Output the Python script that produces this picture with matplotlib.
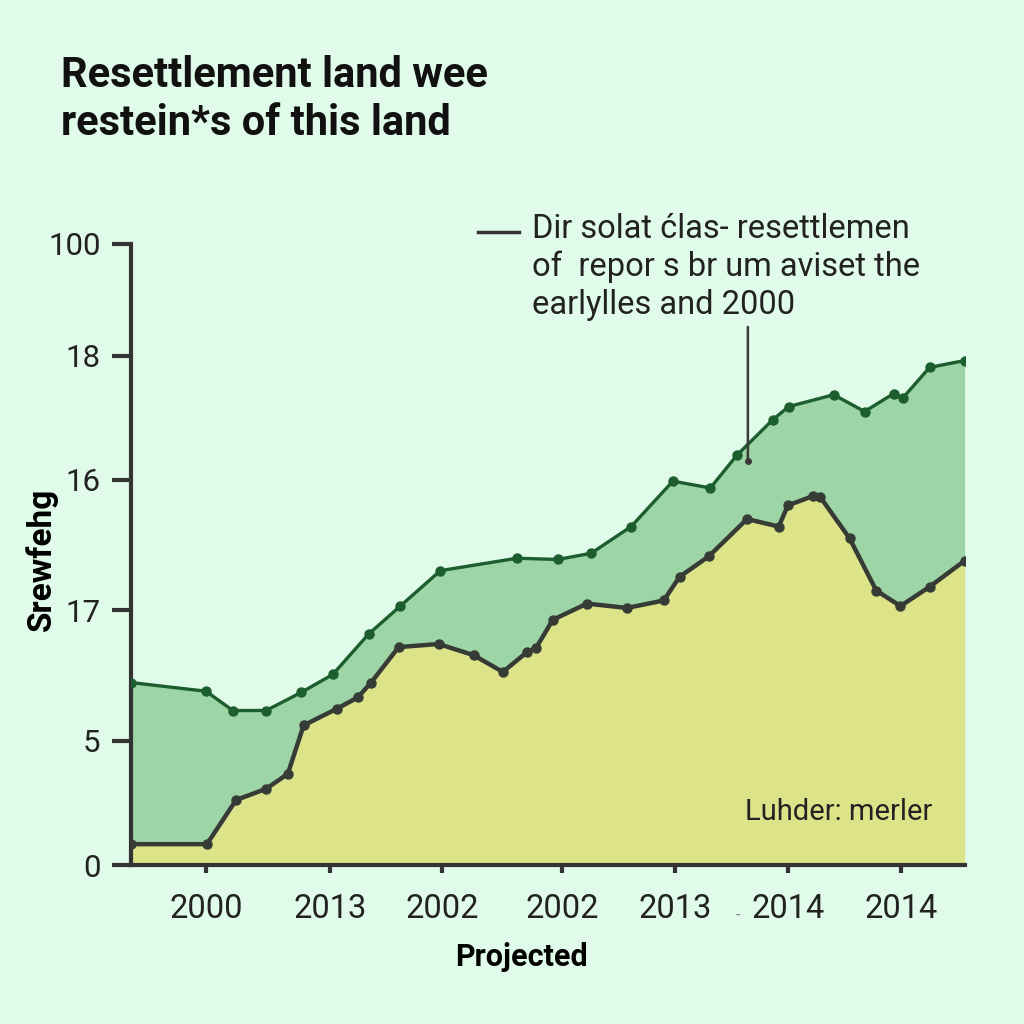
import numpy as np
import matplotlib.pyplot as plt
from matplotlib.lines import Line2D

# upper (green) series
x_up = [0, 9.0, 12.2, 16.2, 20.4, 24.2, 28.5, 32.3, 37.1, 46.3, 51.2, 55.2, 60.0,
        65.0, 69.5, 72.7, 77.0, 78.9, 84.3, 88.0, 91.5, 92.6, 95.8, 100]
y_up = [29.4, 28.0, 24.9, 24.9, 27.8, 30.7, 37.2, 41.7, 47.4, 49.4, 49.2, 50.2, 54.5,
        61.8, 60.7, 66.0, 71.7, 73.8, 75.7, 73.0, 75.9, 75.2, 80.1, 81.2]

# lower (dark) series
x_lo = [0, 9.1, 12.6, 16.2, 18.8, 20.7, 24.7, 27.2, 28.8, 32.1, 36.9, 41.1, 44.6, 47.5,
        48.6, 50.6, 54.7, 59.5, 63.9, 65.8, 69.3, 73.9, 77.7, 78.8, 81.8, 82.7, 86.2,
        89.4, 92.3, 95.8, 100]
y_lo = [3.4, 3.4, 10.5, 12.3, 14.7, 22.5, 25.2, 27.0, 29.4, 35.1, 35.6, 33.8, 31.1, 34.3,
        35.0, 39.5, 42.1, 41.4, 42.6, 46.4, 49.7, 55.7, 54.5, 57.9, 59.4, 59.2, 52.6,
        44.2, 41.7, 44.8, 49.0]

y_ticks = [0, 20, 41, 62, 82, 100]
y_labels = ['0', '5', '17', '16', '18', '100']
x_ticks = [9.0, 23.9, 37.3, 51.7, 65.3, 78.8, 92.4]
x_labels = ['2000', '2013', '2002', '2002', '2013', '2014', '2014']

bg = '#e1fbea'
plt.rcParams['font.family'] = ['Roboto', 'DejaVu Sans']

fig = plt.figure(figsize=(10.24, 10.24), dpi=100, facecolor=bg)
ax = fig.add_axes([0.128, 0.155, 0.814, 0.607])
ax.set_facecolor(bg)

ax.fill_between(x_up, y_up, 0, color='#9ed5a6', lw=0, zorder=1)
ax.fill_between(x_lo, y_lo, 0, color='#dde389', lw=0, zorder=2)
ax.plot(x_up, y_up, color='#1d5e2e', lw=2.4, marker='o', ms=6.5, zorder=3)
ax.plot(x_lo, y_lo, color='#363b35', lw=3.2, marker='o', ms=6.5, zorder=4)

# annotation pointer
ax.annotate('', xy=(74.0, 65.0), xytext=(74.0, 86.6),
            arrowprops=dict(arrowstyle='-', color='#3a3a3a', lw=1.8, shrinkA=0, shrinkB=0),
            zorder=5)
ax.plot([74.0], [65.0], 'o', color='#3a3a3a', ms=4, zorder=5)

ax.set_xlim(0, 100)
ax.set_ylim(0, 100)
ax.set_yticks(y_ticks)
ax.set_yticklabels(y_labels)
ax.set_xticks(x_ticks)
ax.set_xticklabels(x_labels)
ax.tick_params(axis='y', length=14, width=3, color='#333333', labelsize=22.5, pad=8,
               labelcolor='#222222')
ax.tick_params(axis='x', length=6, width=3, color='#333333', labelsize=23.5, pad=14,
               labelcolor='#222222')
for s in ['top', 'right']:
    ax.spines[s].set_visible(False)
for s in ['left', 'bottom']:
    ax.spines[s].set_linewidth(3)
    ax.spines[s].set_color('#333333')

ax.set_ylabel('Srewfehg', fontsize=24, fontweight='bold', va='center')
ax.yaxis.set_label_coords(-0.107, 0.492)
ax.set_xlabel('Projected', fontsize=22, fontweight='bold', va='center')
ax.xaxis.set_label_coords(0.468, -0.147)

ax.text(0.736, 0.085, 'Luhder: merler', transform=ax.transAxes, fontsize=21,
        color='#222222', ha='left', va='center')
ax.text(0.728, -0.08, '-', transform=ax.transAxes, fontsize=12, color='#888888',
        ha='center', va='center')

fig.text(0.06, 0.946, 'Resettlement land wee\nrestein*s of this land', fontsize=30,
         fontweight='bold', ha='left', va='top', linespacing=1.2, color='#111111')

fig.add_artist(Line2D([478 / 1024, 519 / 1024], [1 - 232 / 1024, 1 - 232 / 1024],
                      transform=fig.transFigure, color='#333333', lw=2.5))
fig.text(0.52, 1 - 267 / 1024, 'Dir solat ćlas- resettlemen\nof  repor s br um aviset the\nearlylles and 2000',
         fontsize=23.5, ha='left', va='center', linespacing=1.22, color='#222222')

fig.savefig('out.png', dpi=100, facecolor=bg)
